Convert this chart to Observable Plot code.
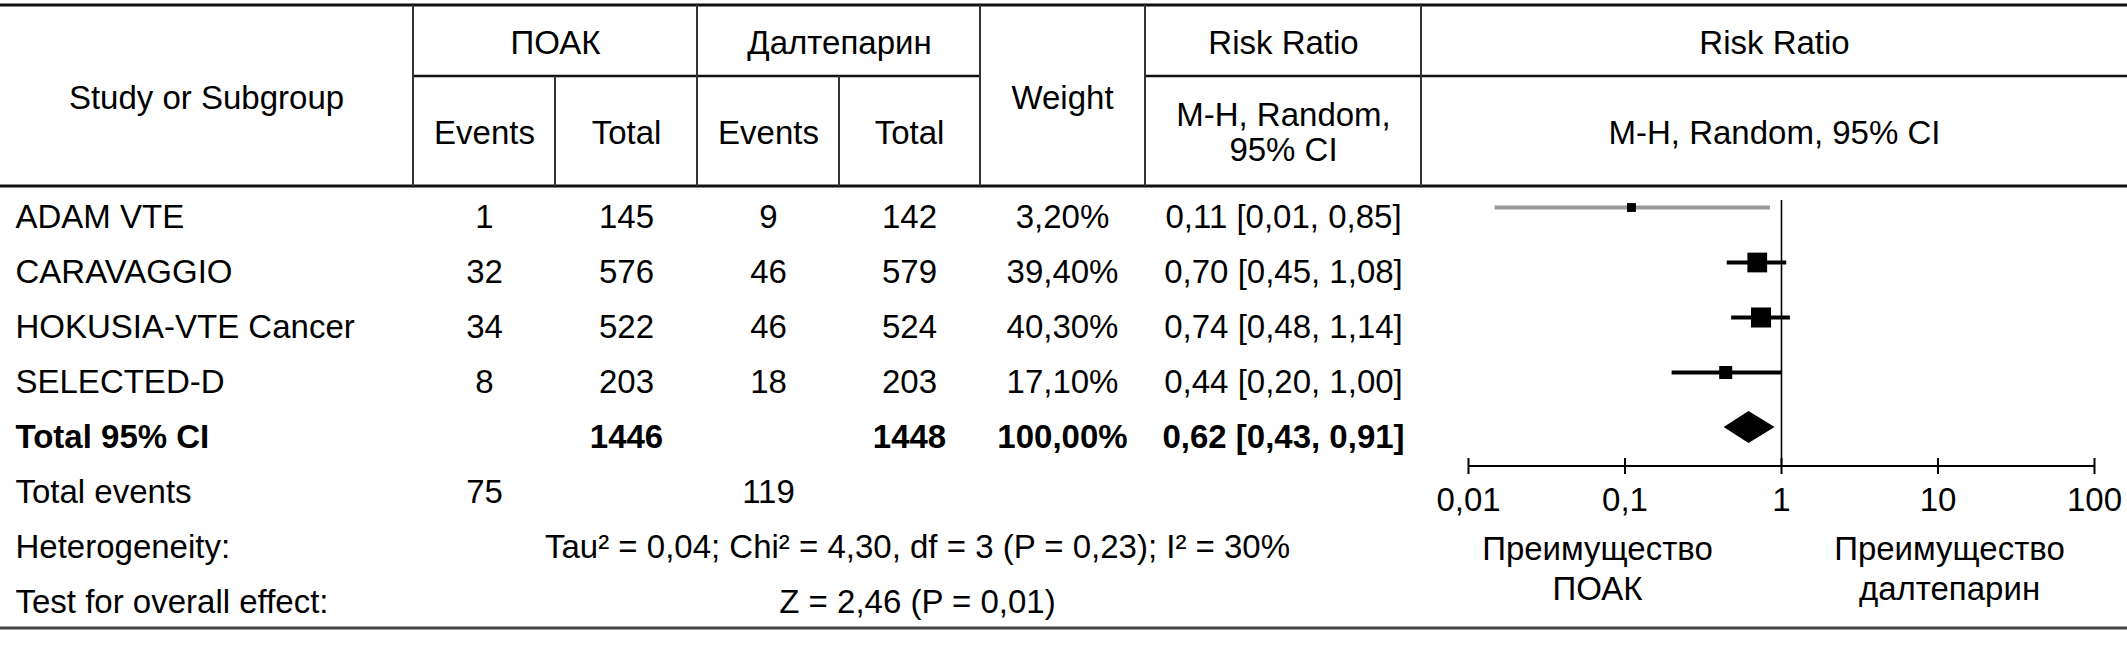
<!DOCTYPE html>
<html>
<head>
<meta charset="utf-8">
<script src="https://cdn.jsdelivr.net/npm/d3@7"></script>
<script src="https://cdn.jsdelivr.net/npm/@observablehq/plot@0.6"></script>
<style>
  html, body { margin: 0; padding: 0; background: #fff; }
  #chart { width: 2127px; height: 660px; }
</style>
</head>
<body>
<div id="chart"></div>
<script>
// ---------- DATA ----------
const studies = ["ADAM VTE", "CARAVAGGIO", "HOKUSIA-VTE Cancer", "SELECTED-D"];
const doacEvents = [1, 32, 34, 8];
const doacTotal = [145, 576, 522, 203];
const daltEvents = [9, 46, 46, 18];
const daltTotal = [142, 579, 524, 203];
const weights = [3.2, 39.4, 40.3, 17.1];
const riskRatio = [0.11, 0.70, 0.74, 0.44];
const ciLow = [0.0148, 0.45, 0.48, 0.20];
const ciHigh = [0.85, 1.08, 1.14, 1.00];

const pooledRR = 0.62;
const pooledLow = 0.43;
const pooledHigh = 0.91;
const pooledWeight = 100;
const doacTotalAll = 1446;
const daltTotalAll = 1448;
const doacEventsAll = 75;
const daltEventsAll = 119;

const heterogeneityText = "Tau² = 0,04; Chi² = 4,30, df = 3 (P = 0,23); I² = 30%";
const overallText = "Z = 2,46 (P = 0,01)";
const axisTicks = [0.01, 0.1, 1, 10, 100];
const favourLeft = "Преимущество\nПОАК";
const favourRight = "Преимущество\nдалтепарин";
const rowLabels = [...studies, "Total 95% CI", "Total events", "Heterogeneity:", "Test for overall effect:"];

// ---------- LAYOUT ----------
const W = 2127, H = 660, FS = 33;
const FONT = "'Liberation Sans', Arial, sans-serif";
const colX = {study: 15, ev1: 484, tot1: 626, ev2: 768, tot2: 909, weight: 1062, rr: 1283, stats: 917};
const forestDy = -10;

const comma = s => s.replace(".", ",");
const f2 = v => comma(d3.format(".2f")(v));
const rrLabel = (r, lo, hi) => `${f2(r)} [${f2(lo)}, ${f2(hi)}]`;

const studyRows = studies.map((s, i) => ({
  row: s, ev1: String(doacEvents[i]), tot1: String(doacTotal[i]), ev2: String(daltEvents[i]), tot2: String(daltTotal[i]),
  weight: weights[i], rr: riskRatio[i], lo: ciLow[i], hi: ciHigh[i],
  weightText: f2(weights[i]) + "%", rrText: rrLabel(riskRatio[i], ciLow[i], ciHigh[i])
}));
const totalRow = [{
  row: "Total 95% CI", tot1: String(doacTotalAll), tot2: String(daltTotalAll),
  weightText: f2(pooledWeight) + "%", rrText: rrLabel(pooledRR, pooledLow, pooledHigh)
}];
const eventsRow = [{row: "Total events", ev1: String(doacEventsAll), ev2: String(daltEventsAll)}];
const statRows = [
  {row: "Heterogeneity:", text: heterogeneityText},
  {row: "Test for overall effect:", text: overallText}
];

const headers = [
  {t: "ПОАК", cx: 555, cy: 42},
  {t: "Далтепарин", cx: 839, cy: 42},
  {t: "Risk Ratio", cx: 1283, cy: 42},
  {t: "Risk Ratio", cx: 1774, cy: 42},
  {t: "Study or Subgroup", cx: 206, cy: 97},
  {t: "Weight", cx: 1062, cy: 97},
  {t: "Events", cx: 484, cy: 132},
  {t: "Total", cx: 626, cy: 132},
  {t: "Events", cx: 768, cy: 132},
  {t: "Total", cx: 909, cy: 132},
  {t: "M-H, Random,\n95% CI", cx: 1283, cy: 132},
  {t: "M-H, Random, 95% CI", cx: 1774, cy: 132}
];

const txt = {fontSize: FS, fontFamily: FONT, fill: "#000", lineAnchor: "middle"};
function colText(data, field, dx, extra = {}) {
  return Plot.text(data, {y: "row", text: field, frameAnchor: "left", dx, textAnchor: "middle", ...txt, ...extra});
}

// table grid (layout)
function tableGrid() {
  const g = d3.create("svg:g").attr("fill", "none");
  const L = (x1, y1, x2, y2, w, c) => g.append("line")
    .attr("x1", x1).attr("y1", y1).attr("x2", x2).attr("y2", y2)
    .attr("stroke", c).attr("stroke-width", w);
  L(0, 5, W, 5, 3, "#111");
  L(413, 76, 980, 76, 2.5, "#111");
  L(1145, 76, W, 76, 2.5, "#111");
  L(0, 186, W, 186, 3, "#111");
  L(0, 628, W, 628, 3, "#444");
  [413, 697, 980, 1145, 1421].forEach(x => L(x, 5, x, 186, 2, "#333"));
  [555, 839].forEach(x => L(x, 76, x, 186, 2, "#333"));
  return g.node();
}

function pooledDiamond(index, scales) {
  const x = scales.x, y = scales.y;
  const cy = y("Total 95% CI") + forestDy;
  const h = 16;
  return d3.create("svg:path")
    .attr("d", `M${x(pooledLow)},${cy}L${x(pooledRR)},${cy - h}L${x(pooledHigh)},${cy}L${x(pooledRR)},${cy + h}Z`)
    .attr("fill", "#000").node();
}

const chart = Plot.plot({
  width: W, height: H,
  marginTop: 0, marginRight: 0, marginBottom: 0, marginLeft: 0,
  style: {background: "#fff", fontFamily: FONT, fontSize: FS + "px", color: "#000"},
  x: {type: "log", domain: [0.01, 100], range: [1468, 2094], axis: null},
  y: {type: "point", domain: rowLabels, range: [215, 603], padding: 0, axis: null},
  r: {type: "linear", domain: [3.2, 40.3], range: [5, 11.3]},
  marks: [
    tableGrid,
    // headers
    ...headers.map(h => Plot.text([h.t], {frameAnchor: "top-left", dx: h.cx, dy: h.cy, textAnchor: "middle", lineHeight: 1.05, ...txt})),
    // row labels
    Plot.text(studyRows.concat(eventsRow, statRows), {y: "row", text: "row", frameAnchor: "left", dx: colX.study, textAnchor: "start", ...txt}),
    Plot.text(totalRow, {y: "row", text: "row", frameAnchor: "left", dx: colX.study, textAnchor: "start", fontWeight: "bold", ...txt}),
    // study columns
    colText(studyRows, "ev1", colX.ev1),
    colText(studyRows, "tot1", colX.tot1),
    colText(studyRows, "ev2", colX.ev2),
    colText(studyRows, "tot2", colX.tot2),
    colText(studyRows, "weightText", colX.weight),
    colText(studyRows, "rrText", colX.rr),
    // total row
    colText(totalRow, "tot1", colX.tot1, {fontWeight: "bold"}),
    colText(totalRow, "tot2", colX.tot2, {fontWeight: "bold"}),
    colText(totalRow, "weightText", colX.weight, {fontWeight: "bold"}),
    colText(totalRow, "rrText", colX.rr, {fontWeight: "bold"}),
    // total events
    colText(eventsRow, "ev1", colX.ev1),
    colText(eventsRow, "ev2", colX.ev2),
    // statistics
    colText(statRows, "text", colX.stats),
    // forest plot: reference line at 1
    Plot.ruleX([1], {stroke: "#000", strokeWidth: 1.6, insetTop: 200, insetBottom: H - 466}),
    // x axis
    Plot.rect([0], {x1: axisTicks[0], x2: axisTicks[axisTicks.length - 1], fill: "#000", insetTop: 465, insetBottom: H - 467}),
    Plot.ruleX(axisTicks, {stroke: "#000", strokeWidth: 2, insetTop: 458, insetBottom: H - 474}),
    Plot.text(axisTicks, {x: d => d, text: d => comma(String(d)), frameAnchor: "top", dy: 500, ...txt}),
    Plot.text([favourLeft], {frameAnchor: "top-left", dx: 1597, dy: 567, textAnchor: "middle", lineHeight: 1.2, ...txt}),
    Plot.text([favourRight], {frameAnchor: "top-left", dx: 1949, dy: 567, textAnchor: "middle", lineHeight: 1.2, ...txt}),
    // CIs
    Plot.ruleY(studyRows, {filter: (d, i) => i === 0, y: "row", x1: "lo", x2: "hi", stroke: "#999", strokeWidth: 4, dy: forestDy}),
    Plot.ruleY(studyRows, {filter: (d, i) => i > 0, y: "row", x1: "lo", x2: "hi", stroke: "#000", strokeWidth: 4, dy: forestDy}),
    // weight squares
    Plot.dot(studyRows, {x: "rr", y: "row", r: "weight", symbol: "square", fill: "#000", stroke: "none", dy: forestDy}),
    // pooled diamond
    pooledDiamond
  ]
});

document.getElementById("chart").appendChild(chart);
</script>
</body>
</html>
